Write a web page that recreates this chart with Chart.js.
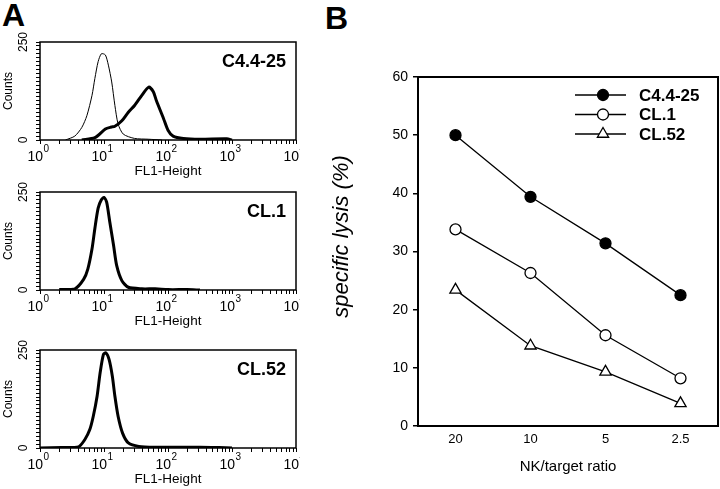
<!DOCTYPE html>
<html><head><meta charset="utf-8">
<script src="https://cdn.jsdelivr.net/npm/chart.js@4/dist/chart.umd.min.js"></script>
<style>
html,body{margin:0;padding:0;background:#fff;}
#wrap{position:relative;width:720px;height:489px;overflow:hidden;font-family:"Liberation Sans",Arial,Helvetica,sans-serif;}
canvas{position:absolute;}
.lbl{position:absolute;font-weight:bold;font-size:32px;line-height:32px;color:#000;}
</style></head><body>
<div id="wrap">
<div class="lbl" style="left:2px;top:-1px">A</div>
<div class="lbl" style="left:325px;top:2px">B</div>
<canvas id="h1" width="300" height="150" style="left:0;top:30px"></canvas>
<canvas id="h2" width="300" height="150" style="left:0;top:180px"></canvas>
<canvas id="h3" width="300" height="150" style="left:0;top:338px"></canvas>
<canvas id="lys" width="420" height="489" style="left:300px;top:0"></canvas>
</div>
<script>
// ---------- Panel A: flow cytometry histograms ----------
const histTickValues = [1,2,3,4,5,6,7,8,9,10,20,30,40,50,60,70,80,90,100,200,300,400,500,600,700,800,900,1000,2000,3000,4000,5000,6000,7000,8000,9000,10000];
const histDecadeExponents = {1:'0', 10:'1', 100:'2', 1000:'3', 10000:'4'};
const countTickLabels = {0:'0', 250:'250'};

// C4.4-25 panel: isotype control (thin) and stained (thick)
const c44ControlX = [2.5, 3.5, 4.5, 5.4, 6.5, 7.2, 8.1, 9.1, 10.5, 11.7, 13.2, 14.8, 16.6, 20, 30, 49, 80];
const c44ControlY = [0, 10, 32, 62, 114, 157, 200, 220, 217, 191, 148, 88, 41, 15, 4, 2, 0];
const c44StainX = [4.5, 7.2, 10.5, 13, 14.8, 19, 24, 30, 39, 50, 59, 66, 85, 100, 120, 174, 316, 830, 1000];
const c44StainY = [0, 6, 28, 33, 35, 49, 71, 88, 114, 135, 123, 100, 55, 25, 10, 4, 2, 3, 0];
// CL.1 panel
const cl1X = [2.0, 3.5, 4.8, 5.6, 6.5, 7.2, 8.1, 9.1, 10, 11, 12.3, 14.1, 15.8, 19, 24, 39, 63, 100, 200, 316];
const cl1Y = [1, 3, 27, 54, 105, 157, 209, 230, 236, 224, 174, 114, 62, 24, 7, 3, 3, 1, 1, 0];
// CL.52 panel
const cl52X = [1.0, 2.2, 4, 5, 6, 6.8, 7.8, 8.7, 9.8, 10.7, 12, 13.5, 14.8, 16.6, 19.5, 24, 35, 63, 316, 630, 1000];
const cl52Y = [0, 1, 3, 21, 47, 81, 132, 192, 239, 243, 226, 183, 132, 81, 38, 13, 4, 2, 2, 1, 0];

// ---------- Panel B: NK cytotoxicity ----------
const ratioLabels = ['20', '10', '5', '2.5'];
const c44Lysis = [50, 39.4, 31.4, 22.5];
const cl1Lysis = [33.8, 26.3, 15.6, 8.2];
const cl52Lysis = [23.4, 13.8, 9.3, 3.9];
const seriesNames = ['C4.4-25', 'CL.1', 'CL.52'];

const FONT = '"Liberation Sans", Arial, Helvetica, sans-serif';
Chart.defaults.font.family = FONT;
Chart.defaults.color = '#000';

const framePlugin = {
  id: 'frame',
  beforeDatasetsDraw(chart, args, opts) {
    const {ctx, chartArea: a} = chart;
    ctx.save();
    ctx.strokeStyle = '#000';
    ctx.lineWidth = opts.width || 1.5;
    ctx.strokeRect(a.left, a.top, a.right - a.left, a.bottom - a.top);
    ctx.restore();
  }
};
const histExtras = {
  id: 'histExtras',
  afterDraw(chart, args, opts) {
    const {ctx, chartArea: a} = chart;
    const xs = chart.scales.x;
    ctx.save();
    ctx.fillStyle = '#000';
    ctx.font = 'bold 18px ' + FONT;
    ctx.textAlign = 'right';
    ctx.textBaseline = 'alphabetic';
    ctx.fillText(opts.text, a.right - 10, a.top + 25);
    Object.keys(histDecadeExponents).forEach(k => {
      const px = xs.getPixelForValue(Number(k));
      ctx.font = '14px ' + FONT;
      ctx.textAlign = 'right';
      ctx.fillText('10', px + 3, a.bottom + 21);
      ctx.font = '10px ' + FONT;
      ctx.textAlign = 'left';
      ctx.fillText(histDecadeExponents[k], px + 3.5, a.bottom + 12);
    });
    ctx.restore();
  }
};

function pts(xs, ys) { return xs.map((x, i) => ({x: x, y: ys[i]})); }

function makeHist(id, datasets, label) {
  new Chart(document.getElementById(id), {
    type: 'line',
    data: {datasets: datasets},
    plugins: [framePlugin, histExtras],
    options: {
      responsive: false, animation: false, devicePixelRatio: 1,
      layout: {autoPadding: false, padding: {top: 12, right: 4, left: 0, bottom: 0}},
      elements: {point: {radius: 0}, line: {tension: 0.25, borderColor: '#000'}},
      plugins: {legend: {display: false}, tooltip: {enabled: false},
                frame: {width: 1.5}, histExtras: {text: label}},
      scales: {
        x: {
          type: 'logarithmic', min: 1, max: 10000, position: 'bottom',
          afterBuildTicks: s => { s.ticks = histTickValues.map(v => ({value: v})); },
          afterFit: s => { s.height = 40; s.paddingLeft = 0; s.paddingRight = 0; },
          border: {display: false},
          grid: {display: true, drawOnChartArea: false, drawTicks: true, tickLength: 4, color: '#000', lineWidth: 1},
          ticks: {autoSkip: false, maxRotation: 0, minRotation: 0, padding: 3, font: {size: 12},
                  callback: () => ''},
          title: {display: true, text: 'FL1-Height', font: {size: 13.5}, padding: {top: 0, bottom: 1}}
        },
        y: {
          type: 'linear', min: 0, max: 250,
          afterFit: s => { s.width = 40; s.paddingTop = 0; s.paddingBottom = 0; },
          border: {display: false},
          grid: {display: true, drawOnChartArea: false, drawTicks: true, tickLength: 4, color: '#000', lineWidth: 1},
          ticks: {stepSize: 10, autoSkip: false, minRotation: 90, maxRotation: 90, crossAlign: 'center',
                  padding: 2, font: {size: 12}, callback: v => countTickLabels[v] || ''},
          title: {display: true, text: 'Counts', font: {size: 12}, padding: {top: 1, bottom: 0}}
        }
      }
    }
  });
}

makeHist('h1', [
  {data: pts(c44ControlX, c44ControlY), borderColor: '#000', borderWidth: 1},
  {data: pts(c44StainX, c44StainY), borderColor: '#000', borderWidth: 3}
], 'C4.4-25');
makeHist('h2', [
  {data: pts(cl1X, cl1Y), borderColor: '#000', borderWidth: 3}
], 'CL.1');
makeHist('h3', [
  {data: pts(cl52X, cl52Y), borderColor: '#000', borderWidth: 3}
], 'CL.52');

// ---------- Panel B chart ----------
const markerStyles = [
  {pointStyle: 'circle', radius: 5.5, fill: '#000'},
  {pointStyle: 'circle', radius: 5.5, fill: '#fff'},
  {pointStyle: 'triangle', radius: 6.5, fill: '#fff'}
];

function drawMarker(ctx, style, x, y) {
  ctx.beginPath();
  const r = style.radius;
  if (style.pointStyle === 'triangle') {
    ctx.moveTo(x, y - r);
    ctx.lineTo(x + r * Math.sin(Math.PI / 3), y + r * 0.5);
    ctx.lineTo(x - r * Math.sin(Math.PI / 3), y + r * 0.5);
    ctx.closePath();
  } else {
    ctx.arc(x, y, r, 0, Math.PI * 2);
  }
  ctx.fillStyle = style.fill;
  ctx.fill();
  ctx.stroke();
}

const lysisExtras = {
  id: 'lysisExtras',
  afterDraw(chart) {
    const {ctx, chartArea: a} = chart;
    ctx.save();
    ctx.translate(42, (a.top + a.bottom) / 2 - 15);
    ctx.rotate(-Math.PI / 2);
    ctx.font = 'italic 22px ' + FONT;
    ctx.fillStyle = '#000';
    ctx.textAlign = 'center';
    ctx.textBaseline = 'middle';
    ctx.fillText('specific lysis (%)', 0, 0);
    ctx.restore();
    ctx.save();
    ctx.strokeStyle = '#000';
    ctx.lineWidth = 1.3;
    const rowsY = [a.top + 18, a.top + 37.5, a.top + 57];
    seriesNames.forEach((name, i) => {
      const y = rowsY[i];
      ctx.beginPath();
      ctx.moveTo(a.right - 143, y);
      ctx.lineTo(a.right - 92, y);
      ctx.stroke();
      drawMarker(ctx, markerStyles[i], a.right - 115, y);
      ctx.font = 'bold 17px ' + FONT;
      ctx.fillStyle = '#000';
      ctx.textAlign = 'left';
      ctx.textBaseline = 'middle';
      ctx.fillText(name, a.right - 79, y + 1);
    });
    ctx.restore();
  }
};

const lysisSeries = [c44Lysis, cl1Lysis, cl52Lysis];
new Chart(document.getElementById('lys'), {
  type: 'line',
  data: {
    labels: ratioLabels,
    datasets: lysisSeries.map((d, i) => ({
      label: seriesNames[i], data: d,
      borderColor: '#000', borderWidth: 1.3, tension: 0,
      pointStyle: markerStyles[i].pointStyle, pointRadius: markerStyles[i].radius,
      pointBackgroundColor: markerStyles[i].fill, pointBorderColor: '#000', pointBorderWidth: 1.3
    }))
  },
  plugins: [framePlugin, lysisExtras],
  options: {
    responsive: false, animation: false, devicePixelRatio: 1,
    layout: {autoPadding: false, padding: {top: 77, right: 2, left: 0, bottom: 0}},
    plugins: {legend: {display: false}, tooltip: {enabled: false}, frame: {width: 2}},
    scales: {
      x: {
        type: 'category', offset: true,
        afterFit: s => { s.height = 63; s.paddingLeft = 0; s.paddingRight = 0; },
        border: {display: false},
        grid: {display: false, drawTicks: false},
        ticks: {padding: 6, font: {size: 13}},
        title: {display: true, text: 'NK/target ratio', font: {size: 15}, padding: {top: 0, bottom: 13}}
      },
      y: {
        type: 'linear', min: 0, max: 60,
        afterFit: s => { s.width = 118; s.paddingTop = 0; s.paddingBottom = 0; },
        border: {display: false},
        grid: {display: true, drawOnChartArea: false, drawTicks: true, tickLength: 5, color: '#000', lineWidth: 1.5},
        ticks: {stepSize: 10, padding: 5, font: {size: 14}},
        title: {display: false}
      }
    }
  }
});
</script>
</body></html>
